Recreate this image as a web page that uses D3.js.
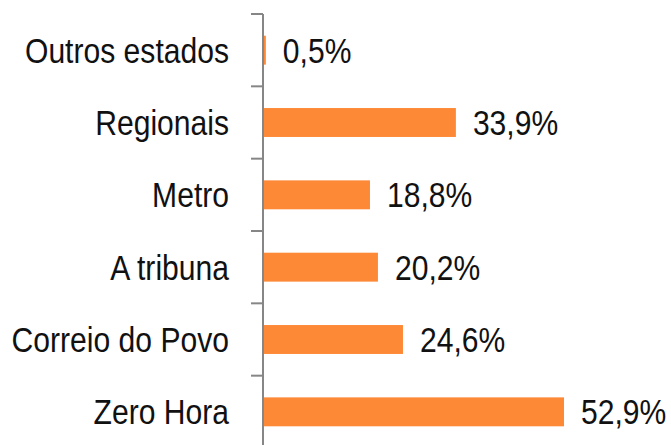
<!DOCTYPE html>
<html>
<head>
<meta charset="utf-8">
<script src="https://cdn.jsdelivr.net/npm/d3@7"></script>
<style>
  body { margin: 0; background: #fff; }
  svg text { font-family: "Liberation Sans", Arial, sans-serif; fill: #111; }
</style>
</head>
<body>
<div id="chart"></div>
<script>
var categories = ["Outros estados", "Regionais", "Metro", "A tribuna", "Correio do Povo", "Zero Hora"];
var values     = [0.5, 33.9, 18.8, 20.2, 24.6, 52.9];
var valueLabels = ["0,5%", "33,9%", "18,8%", "20,2%", "24,6%", "52,9%"];

var width = 671, height = 445;
var axisX = 263;
var squeeze = 0.86;   // narrow font look

var svg = d3.select("#chart")
  .append("svg")
    .attr("width", width)
    .attr("height", height);

// band scale runs past the bottom of the picture, like the original crop
var y = d3.scaleBand()
  .domain(categories)
  .range([14, 448])
  .paddingInner(0.6)
  .paddingOuter(0.3);

var x = d3.scaleLinear()
  .domain([0, 52.9])
  .range([axisX, 564]);

var data = d3.zip(categories, values, valueLabels);

// bars
svg.append("g")
  .selectAll("rect")
  .data(data)
  .enter()
  .append("rect")
    .attr("x", x(0))
    .attr("y", function(d){ return y(d[0]); })
    .attr("width", function(d){ return x(d[1]) - x(0); })
    .attr("height", y.bandwidth())
    .attr("fill", "#fd8937");

// axis line + ticks between categories
var axis = svg.append("g").attr("stroke", "#868686").attr("stroke-width", 2);
axis.append("line")
  .attr("x1", axisX).attr("x2", axisX)
  .attr("y1", 14).attr("y2", 448);
axis.selectAll("line.tick")
  .data(d3.range(categories.length + 1))
  .enter()
  .append("line")
    .attr("class", "tick")
    .attr("x1", axisX - 12).attr("x2", axisX)
    .attr("y1", function(i){ return 14 + i*y.step(); })
    .attr("y2", function(i){ return 14 + i*y.step(); });

function mid(d){ return y(d[0]) + y.bandwidth()/2; }

// category labels
svg.append("g")
  .selectAll("text")
  .data(data)
  .enter()
  .append("text")
    .attr("transform", function(d){ return "translate(229," + mid(d) + ") scale(" + squeeze + ",1)"; })
    .attr("dy", "0.36em")
    .attr("text-anchor", "end")
    .style("font-size", "35px")
    .text(function(d){ return d[0]; });

// value labels
svg.append("g")
  .selectAll("text")
  .data(data)
  .enter()
  .append("text")
    .attr("transform", function(d){ return "translate(" + (x(d[1]) + 17) + "," + mid(d) + ") scale(" + squeeze + ",1)"; })
    .attr("dy", "0.36em")
    .style("font-size", "35px")
    .text(function(d){ return d[2]; });
</script>
</body>
</html>
